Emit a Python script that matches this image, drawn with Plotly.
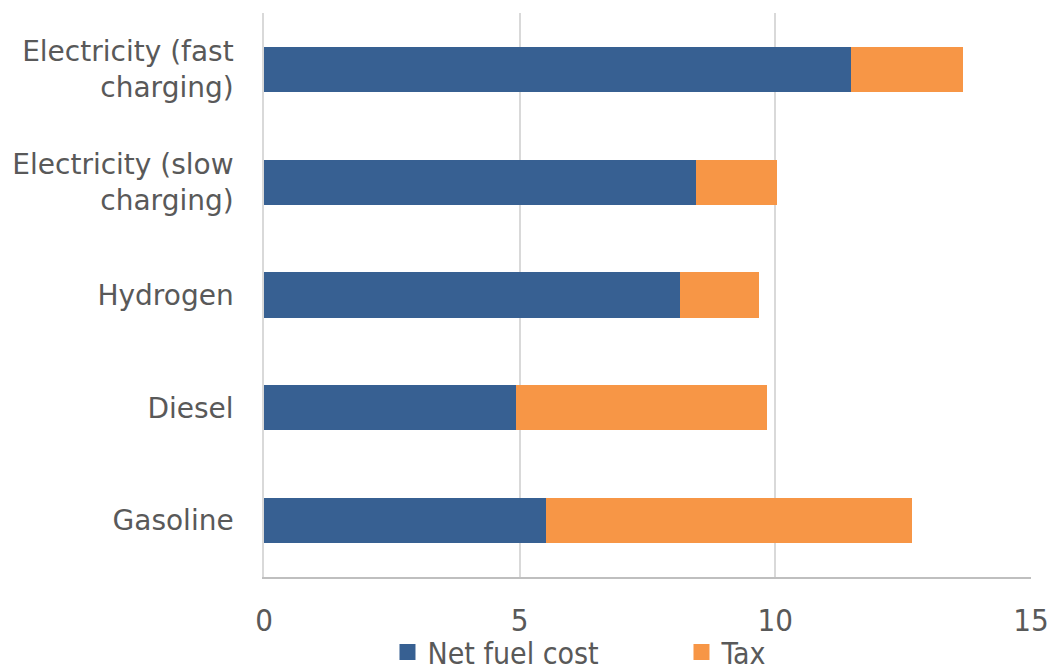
import plotly.graph_objects as go

categories = ["Gasoline", "Diesel", "Hydrogen", "Electricity (slow<br>charging)", "Electricity (fast<br>charging)"]
net_fuel_cost = [5.52, 4.93, 8.14, 8.45, 11.48]
tax = [7.15, 4.91, 1.54, 1.58, 2.19]
x_ticks = [0, 5, 10, 15]
series_names = ["Net fuel cost", "Tax"]
colors = ["#376092", "#F79646"]

narrow = "Liberation Sans Narrow, DejaVu Sans Condensed"

fig = go.Figure()
for name, vals, col in zip(series_names, [net_fuel_cost, tax], colors):
    fig.add_trace(go.Bar(y=categories, x=vals, orientation="h", name=name, showlegend=False,
                         marker=dict(color=col, line=dict(width=0))))
# legend entries with larger square swatches
for name, col in zip(series_names, colors):
    fig.add_trace(go.Scatter(x=[None], y=[None], mode="markers", name=name,
                             marker=dict(symbol="square", size=17, color=col)))

fig.update_layout(
    barmode="stack",
    bargap=0.6,
    width=1053, height=667,
    margin=dict(l=264, r=22, t=13, b=90, autoexpand=False),
    paper_bgcolor="white", plot_bgcolor="white",
    font=dict(family="DejaVu Sans", size=28, color="#595959"),
    showlegend=True,
    legend=dict(orientation="h", x=0.161, xanchor="left", y=-0.133, yanchor="middle",
                font=dict(family=narrow, size=30, color="#595959"),
                itemsizing="trace", traceorder="normal", itemwidth=30,
                entrywidth=249, entrywidthmode="pixels", bgcolor="rgba(0,0,0,0)"),
)
fig.update_xaxes(range=[0, 15], tickvals=x_ticks, showgrid=True, gridcolor="#D9D9D9", gridwidth=1.5,
                 zeroline=False, showline=True, linecolor="#BFBFBF", linewidth=1.5,
                 tickfont=dict(family=narrow, size=31, color="#595959"),
                 ticks="", ticklabelstandoff=15, automargin=False)
fig.update_yaxes(showgrid=False, zeroline=False, showline=True, linecolor="#D9D9D9", linewidth=1.5,
                 ticks="", ticklabelstandoff=23, automargin=False,
                 tickfont=dict(family="DejaVu Sans", size=28, color="#595959"))

fig.write_html("out.html", config={"displayModeBar": False},
               post_script="document.body.style.margin='0';document.body.style.padding='0';")
